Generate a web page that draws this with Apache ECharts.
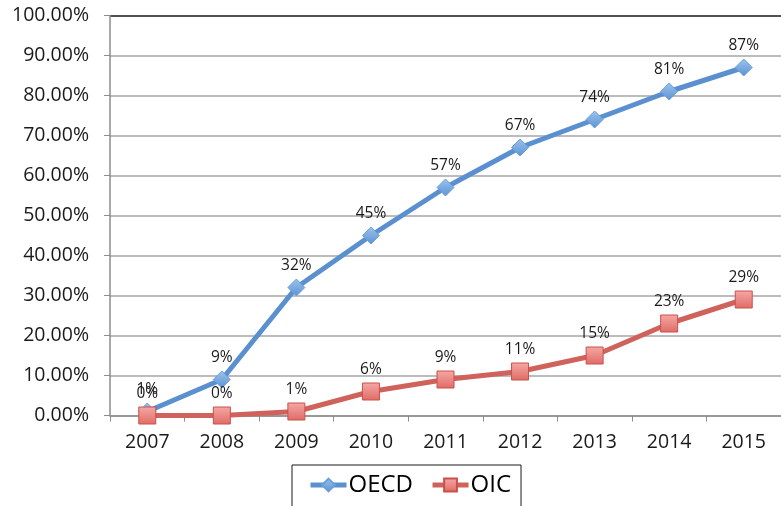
<!DOCTYPE html>
<html>
<head>
<meta charset="utf-8">
<script src="https://cdn.jsdelivr.net/npm/echarts@6/dist/echarts.min.js"></script>
<style>
  html, body { margin: 0; padding: 0; background: #ffffff; }
  #chart { width: 781px; height: 506px; }
</style>
</head>
<body>
<div id="chart"></div>
<script>
// Years on the category axis
const years = ['2007', '2008', '2009', '2010', '2011', '2012', '2013', '2014', '2015'];
// Share (percent) for each group by year
const oecd = [1, 9, 32, 45, 57, 67, 74, 81, 87];
const oic = [0, 0, 1, 6, 9, 11, 15, 23, 29];
// Value axis range and step (percent)
const yMin = 0;
const yMax = 100;
const yStep = 10;

const FONT = '"Open Sans", "Noto Sans", sans-serif';

// Gridline colours: light grey, with the top line drawn dark
const gridColors = [];
for (let v = yMin; v <= yMax; v += yStep) {
  gridColors.push(v === yMax ? '#1a1a1a' : '#a6a6a6');
}

const chart = echarts.init(document.getElementById('chart'), null, { renderer: 'canvas' });

const labelStyle = {
  show: true,
  position: 'top',
  distance: 5,
  formatter: '{c}%',
  color: '#1a1a1a',
  fontFamily: FONT,
  fontSize: 15.5
};

chart.setOption({
  animation: false,
  backgroundColor: '#ffffff',
  grid: { left: 110, right: -9, top: 15.5, bottom: 90.5 },
  xAxis: {
    type: 'category',
    data: years,
    boundaryGap: true,
    axisLine: { lineStyle: { color: '#8c8c8c', width: 1.5 } },
    axisTick: { show: true, length: 6, lineStyle: { color: '#8c8c8c' } },
    axisLabel: { color: '#1a1a1a', fontFamily: FONT, fontSize: 19.5, margin: 17 },
    splitLine: { show: false }
  },
  yAxis: {
    type: 'value',
    min: yMin,
    max: yMax,
    interval: yStep,
    axisLine: { show: true, lineStyle: { color: '#8c8c8c', width: 1.5 } },
    axisTick: { show: true, length: 6, lineStyle: { color: '#8c8c8c' } },
    axisLabel: {
      color: '#1a1a1a', fontFamily: FONT, fontSize: 19.5, margin: 21,
      formatter: v => v.toFixed(2) + '%'
    },
    splitLine: { show: true, lineStyle: { color: gridColors, width: 1.5 } }
  },
  legend: {
    top: 465,
    left: 292,
    orient: 'horizontal',
    borderColor: '#1a1a1a',
    borderWidth: 1,
    padding: [8, 10, 20, 16],
    itemGap: 17,
    itemWidth: 36,
    itemHeight: 16,
    lineStyle: { width: 5 },
    textStyle: { color: '#000000', fontFamily: FONT, fontSize: 24, padding: [0, 0, 0, -3] },
    data: ['OECD', 'OIC']
  },
  series: [
    {
      name: 'OECD',
      type: 'line',
      data: oecd,
      symbol: 'diamond',
      symbolSize: 17,
      lineStyle: { color: '#5a90d0', width: 5 },
      itemStyle: {
        color: new echarts.graphic.LinearGradient(0, 0, 0, 1, [
          { offset: 0, color: '#9cc3ee' },
          { offset: 1, color: '#5b93d3' }
        ]),
        borderColor: '#6a9fd9',
        borderWidth: 1
      },
      label: labelStyle,
      z: 3
    },
    {
      name: 'OIC',
      type: 'line',
      data: oic,
      symbol: 'rect',
      symbolSize: 17,
      lineStyle: { color: '#d0625c', width: 5 },
      itemStyle: {
        color: new echarts.graphic.LinearGradient(0, 0, 0, 1, [
          { offset: 0, color: '#f5a9a6' },
          { offset: 1, color: '#e06a65' }
        ]),
        borderColor: '#c9504b',
        borderWidth: 1
      },
      label: labelStyle,
      z: 4
    }
  ]
});
</script>
</body>
</html>
